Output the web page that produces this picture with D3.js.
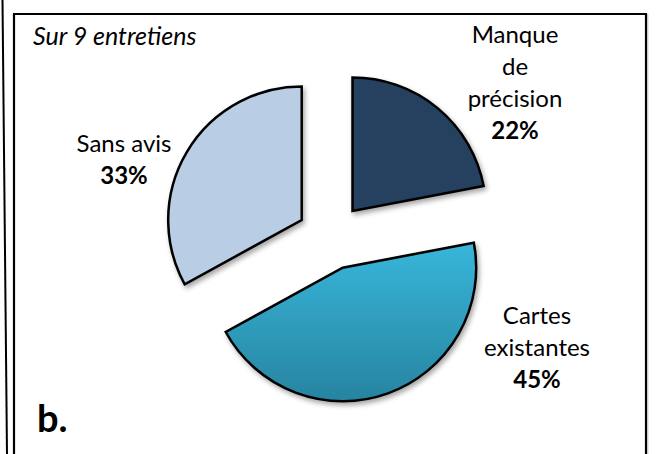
<!DOCTYPE html>
<html>
<head>
<meta charset="utf-8">
<script src="https://cdn.jsdelivr.net/npm/d3@7"></script>
<style>
  html, body { margin: 0; padding: 0; background: #fff; }
  svg { display: block; }
</style>
</head>
<body>
<svg id="chart" width="656" height="454"></svg>
<script>
// Répartition des avis (sur 9 entretiens)
const categories = ["Manque de précision", "Cartes existantes", "Sans avis"];
const labelLines = [["Manque", "de", "précision"], ["Cartes", "existantes"], ["Sans avis"]];
const values = [22, 45, 33];

// Layout: pie centre, radius, per-slice explode shift and label anchors
const W = 656, H = 454;
const center = [330, 235];
const radius = 133.5;
const sliceShift = [[22.5, -24], [12.7, 32.7], [-28.3, -15]];
const labelAnchor = [[515, 43], [537, 324], [124, 152]];
const lineStep = 32;
const fills = ["#253F60", "url(#gradCartes)", "#B9CDE5"];

const svg = d3.select("#chart");
const defs = svg.append("defs");

const grad = defs.append("linearGradient")
  .attr("id", "gradCartes").attr("x1", 0).attr("y1", 0).attr("x2", 0).attr("y2", 1);
grad.append("stop").attr("offset", "0%").attr("stop-color", "#38B6DA");
grad.append("stop").attr("offset", "100%").attr("stop-color", "#2784A0");

const shadow = defs.append("filter").attr("id", "shadow")
  .attr("x", "-20%").attr("y", "-20%").attr("width", "140%").attr("height", "140%");
shadow.append("feDropShadow")
  .attr("dx", 2).attr("dy", 3).attr("stdDeviation", 2.5)
  .attr("flood-color", "#000").attr("flood-opacity", 0.35);

// Frame
svg.append("line").attr("x1", 2.5).attr("y1", 0).attr("x2", 7).attr("y2", H)
  .attr("stroke", "#000").attr("stroke-width", 2);
svg.append("path")
  .attr("d", `M14,${H} L14,14 L646,14 L646,${H}`)
  .attr("fill", "none").attr("stroke", "#000").attr("stroke-width", 2.2);
svg.append("line").attr("x1", 647.8).attr("y1", 14).attr("x2", 647.8).attr("y2", H)
  .attr("stroke", "#bbb").attr("stroke-width", 1);

// Pie
const pie = d3.pie().sort(null).value(d => d)
  .startAngle(0).endAngle(2 * Math.PI);
const arc = d3.arc().innerRadius(0).outerRadius(radius);
const arcs = pie(values);

const g = svg.append("g").attr("transform", `translate(${center[0]},${center[1]})`);
g.selectAll("path.slice")
  .data(arcs)
  .join("path")
  .attr("class", "slice")
  .attr("transform", (d, i) => `translate(${sliceShift[i][0]},${sliceShift[i][1]})`)
  .attr("d", arc)
  .attr("fill", (d, i) => fills[i])
  .attr("stroke", "#000")
  .attr("stroke-width", 2.5)
  .attr("stroke-linejoin", "miter")
  .attr("filter", "url(#shadow)");

// Labels: category name lines, then bold percentage
const fmt = v => `${Math.round(v)}%`;
arcs.forEach((d, i) => {
  const [lx, ly] = labelAnchor[i];
  const t = svg.append("text")
    .attr("text-anchor", "middle")
    .attr("font-family", "Lato, 'Open Sans', sans-serif")
    .attr("font-size", 24)
    .attr("fill", "#000");
  labelLines[i].forEach((line, k) => {
    t.append("tspan").attr("x", lx).attr("y", ly + k * lineStep).text(line);
  });
  t.append("tspan").attr("x", lx).attr("y", ly + labelLines[i].length * lineStep)
    .attr("font-weight", "bold").text(fmt(d.data));
});

// Annotations
svg.append("text")
  .attr("x", 33).attr("y", 45)
  .attr("font-family", "Lato, 'Open Sans', sans-serif")
  .attr("font-style", "italic")
  .attr("font-size", 25)
  .text("Sur 9 entretiens");

svg.append("text")
  .attr("x", 37).attr("y", 432)
  .attr("font-family", "Lato, 'Open Sans', sans-serif")
  .attr("font-weight", "bold")
  .attr("font-size", 38)
  .text("b.");
</script>
</body>
</html>
